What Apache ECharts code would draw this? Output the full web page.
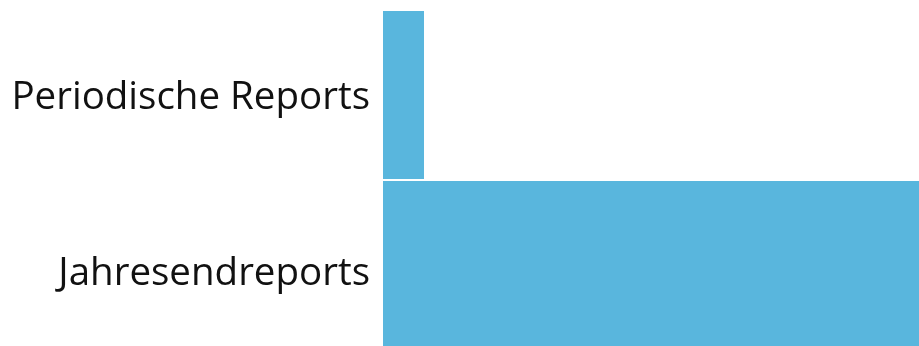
<!DOCTYPE html>
<html><head><meta charset="utf-8">
<script src="https://cdn.jsdelivr.net/npm/echarts@6/dist/echarts.min.js"></script>
<style>html,body{margin:0;padding:0;background:#fff;overflow:hidden}#c{width:919px;height:350px}</style>
</head><body><div id="c"></div>
<script>
const categories = ["Periodische Reports", "Jahresendreports"];
const values = [7, 93];
const chart = echarts.init(document.getElementById('c'), null, {renderer: 'canvas'});
chart.setOption({
  animation: false,
  grid: {left: 383, top: 10, right: 0, bottom: 0, containLabel: false},
  xAxis: {type: 'value', min: 0, max: 91.5, show: false},
  yAxis: {
    type: 'category', data: categories, inverse: true,
    axisLine: {show: false}, axisTick: {show: false},
    axisLabel: {
      margin: 13,
      formatter: function (v, i) { return (i === 0 ? '{a|' : '{b|') + v + '}'; },
      rich: {
        a: {fontFamily: 'Open Sans', fontSize: 38.5, color: '#111', padding: [6, 0, 0, 0]},
        b: {fontFamily: 'Open Sans', fontSize: 38.5, color: '#111', padding: [18, 0, 0, 0]}
      }
    }
  },
  series: [{
    type: 'bar', data: values, barCategoryGap: '1.2%',
    itemStyle: {color: '#59b6dd'}
  }]
});
</script></body></html>
